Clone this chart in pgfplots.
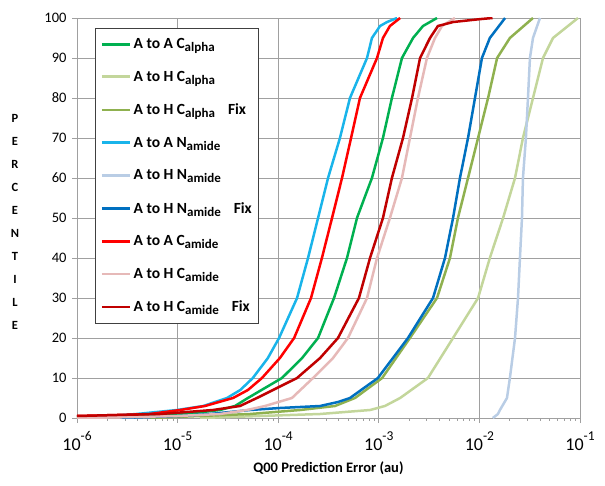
\documentclass[border=0pt]{standalone}
\usepackage{fontspec}
\setmainfont{Carlito}
\usepackage{pgfplots}
\pgfplotsset{compat=1.18}
\definecolor{cgreen}{HTML}{00B050}
\definecolor{clgreen}{HTML}{C3D69B}
\definecolor{colive}{HTML}{8FB14F}
\definecolor{ccyan}{HTML}{19B4EA}
\definecolor{clblue}{HTML}{B9CDE5}
\definecolor{cblue}{HTML}{0070C0}
\definecolor{cred}{HTML}{FF0000}
\definecolor{cpink}{HTML}{E6B9B8}
\definecolor{cdred}{HTML}{C00000}
\definecolor{gridgray}{HTML}{A0A0A0}
\newcommand{\ex}[1]{10\raisebox{1.15ex}{\fontsize{13.5}{13.5}\selectfont #1}}
\newcommand{\sub}[1]{\raisebox{-0.4ex}{\fontsize{13}{13}\selectfont #1}}
\begin{document}
\begin{tikzpicture}
\begin{axis}[
  scale only axis,
  width=503pt, height=400pt,
  xmode=log,
  xmin=1e-6, xmax=1e-1,
  ymin=0, ymax=100,
  xtick={1e-6,1e-5,1e-4,1e-3,1e-2,1e-1},
  xticklabels={\ex{-6},\ex{-5},\ex{-4},\ex{-3},\ex{-2},\ex{-1}},
  xticklabel style={font=\fontsize{18}{18}\selectfont, yshift=-5pt},
  ytick={0,10,...,100},
  yticklabel style={font=\fontsize{14.5}{14.5}\selectfont, xshift=-2pt},
  /pgf/number format/assume math mode=true,
  minor xtick={},
  grid=major,
  major grid style={gridgray, line width=0.8pt},
  axis line style={gridgray, line width=0.8pt},
  tick style={gridgray, line width=0.8pt},
  tick align=outside,
  major tick length=5pt,
  tick pos=left,
  xlabel={Q00 Prediction Error (au)},
  xlabel style={font=\bfseries\fontsize{14.5}{14.5}\selectfont, yshift=-4pt},
  ylabel={P\\E\\R\\C\\E\\N\\T\\I\\L\\E},
  ylabel style={rotate=-90, align=center, font=\bfseries\fontsize{12.5}{23}\selectfont,
    at={(axis description cs:0,0.5)}, anchor=center, xshift=-62pt, yshift=-4pt},
  legend cell align=left,
  legend style={at={(axis description cs:0,1)}, anchor=north west,
    xshift=18pt, yshift=-10pt, draw=black!75, line width=0.8pt, fill=white,
    font=\bfseries\fontsize{15.5}{15.5}\selectfont, row sep=17pt,
    inner xsep=5pt, inner ysep=8pt},
  legend image code/.code={\draw[#1, line width=2.8pt] (0cm,0cm) -- (1cm,0cm);},
  every axis plot/.append style={line width=2.5pt, line join=round, no markers},
]
\addplot[cgreen] coordinates {(1e-6,0.2)(5e-6,0.5)(1.19e-5,1)(2.64e-5,2)(3.72e-5,3)(5.0e-5,5)(1.09e-4,10)(1.73e-4,15)(2.49e-4,20)(3.59e-4,30)(4.83e-4,40)(6.07e-4,50)(7.2e-4,55)(8.55e-4,60)(1.10e-3,70)(1.35e-3,80)(1.70e-3,90)(2.19e-3,95)(2.75e-3,98)(3.79e-3,100)};
\addplot[clgreen] coordinates {(1.67e-5,0)(6.6e-5,0.5)(2.61e-4,1)(8.2e-4,2)(1.15e-3,3)(1.63e-3,5)(3.08e-3,10)(5.47e-3,20)(9.7e-3,30)(1.27e-2,40)(1.72e-2,50)(2.26e-2,60)(2.71e-2,70)(3.41e-2,80)(4.29e-2,90)(5.39e-2,95)(9.55e-2,100)};
\addplot[colive] coordinates {(5.3e-6,0)(1.67e-5,0.5)(5.25e-5,1)(1.65e-4,2)(3.67e-4,3)(5.8e-4,5)(1.08e-3,10)(2.04e-3,20)(3.79e-3,30)(5.1e-3,40)(6.12e-3,50)(7.71e-3,60)(9.7e-3,70)(1.22e-2,80)(1.50e-2,90)(2.01e-2,95)(3.41e-2,100)};
\addplot[ccyan] coordinates {(1e-6,0.3)(2.1e-6,0.5)(3.9e-6,1)(9.9e-6,2)(1.8e-5,3)(3.1e-5,5)(4.2e-5,7)(5.6e-5,10)(7.9e-5,15)(1.02e-4,20)(1.54e-4,30)(1.98e-4,40)(2.49e-4,50)(3.13e-4,60)(4.11e-4,70)(5.17e-4,80)(7.64e-4,90)(8.55e-4,95)(1.03e-3,98)(1.21e-3,99)(1.52e-3,100)};
\addplot[clblue] coordinates {(1.36e-2,0)(1.53e-2,1)(1.60e-2,2)(1.88e-2,5)(2.01e-2,10)(2.26e-2,20)(2.42e-2,30)(2.53e-2,40)(2.65e-2,50)(2.71e-2,60)(2.90e-2,70)(3.04e-2,80)(3.18e-2,90)(3.41e-2,95)(4.0e-2,100)};
\addplot[cblue] coordinates {(2.7e-6,0)(1.06e-5,0.5)(2.10e-5,1)(5.25e-5,2)(1.04e-4,2.5)(2.61e-4,3)(3.93e-4,4)(5.17e-4,5)(9.8e-4,10)(1.95e-3,20)(3.46e-3,30)(4.55e-3,40)(5.47e-3,50)(6.41e-3,60)(7.71e-3,70)(9.04e-3,80)(1.06e-2,90)(1.27e-2,95)(1.80e-2,100)};
\addplot[cred] coordinates {(1e-6,0.5)(3e-6,0.8)(5.3e-6,1)(1.06e-5,2)(1.87e-5,3)(3.56e-5,5)(5.0e-5,7)(6.9e-5,10)(1.04e-4,15)(1.44e-4,20)(2.12e-4,30)(2.72e-4,40)(3.43e-4,50)(4.31e-4,60)(5.30e-4,70)(6.5e-4,80)(9.6e-4,90)(1.10e-3,95)(1.29e-3,98)(1.63e-3,100)};
\addplot[cpink] coordinates {(1e-6,0)(3e-6,0.2)(9.9e-6,0.5)(2.64e-5,1)(4.9e-5,2)(7.4e-5,3)(1.37e-4,5)(2.22e-4,10)(3.51e-4,15)(4.94e-4,20)(7.64e-4,30)(9.6e-4,40)(1.29e-3,50)(1.70e-3,60)(2.04e-3,70)(2.45e-3,80)(3.01e-3,90)(3.62e-3,95)(4.25e-3,98)(5.71e-3,100)};
\addplot[cdred] coordinates {(1e-6,0.5)(3e-6,0.8)(6.7e-6,1)(2.25e-5,2)(4.17e-5,3)(6.15e-5,5)(1.54e-4,10)(2.61e-4,15)(3.93e-4,20)(6.35e-4,30)(8.18e-4,40)(1.10e-3,50)(1.35e-3,60)(1.74e-3,70)(2.14e-3,80)(2.57e-3,90)(3.23e-3,95)(3.87e-3,98)(5.5e-3,99)(1.0e-2,99.7)(1.35e-2,100)};
\legend{A to A C\sub{alpha}, A to H C\sub{alpha}, A to H C\sub{alpha}\hspace{13pt}Fix,
  A to A N\sub{amide}, A to H N\sub{amide}, A to H N\sub{amide}\hspace{13pt}Fix,
  A to A C\sub{amide}, A to H C\sub{amide}, A to H C\sub{amide}\hspace{13pt}Fix}
\end{axis}
\path[use as bounding box] ([xshift=-77pt,yshift=-67pt]current axis.south west) rectangle ([xshift=25pt,yshift=18pt]current axis.north east);
\end{tikzpicture}
\end{document}
